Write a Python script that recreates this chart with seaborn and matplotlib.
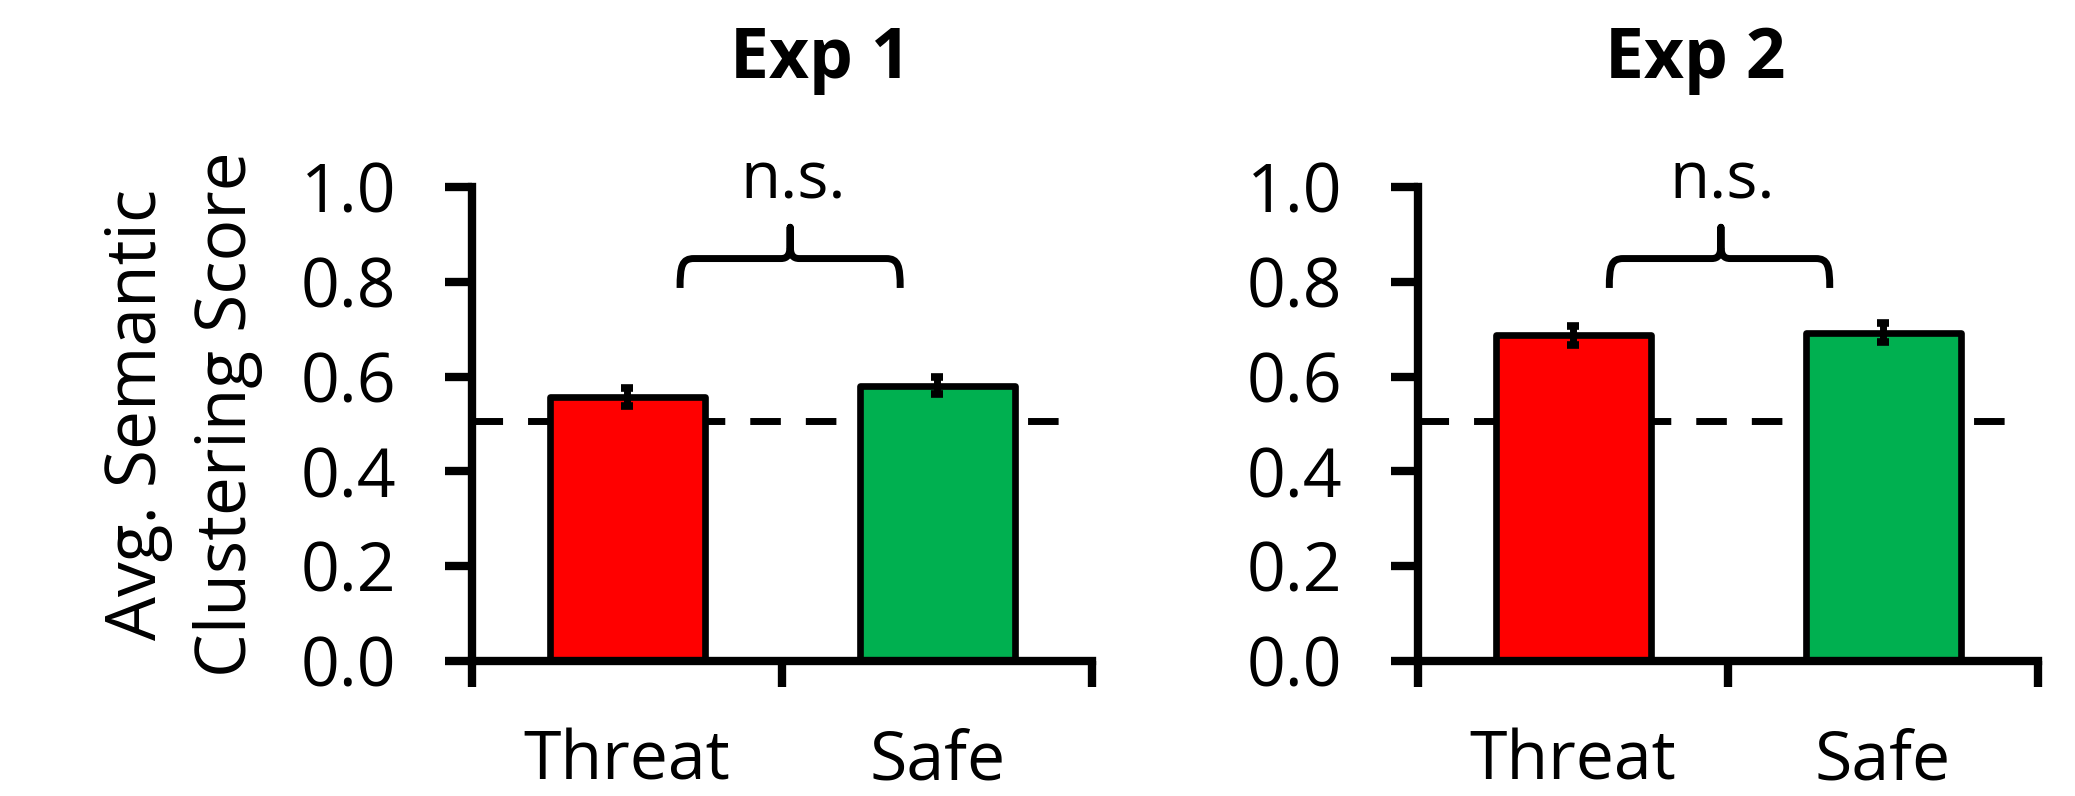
import numpy as np
import seaborn as sns
import matplotlib.pyplot as plt
from matplotlib.path import Path
from matplotlib.patches import PathPatch

# data
conditions = ['Threat', 'Safe']
bar_colors = ['#FF0000', '#00B050']
exp_titles = ['Exp 1', 'Exp 2']
exp1_means = [0.557, 0.581]
exp1_se = [0.019, 0.018]
exp2_means = [0.687, 0.693]
exp2_se = [0.020, 0.019]
chance_level = 0.507
yticks = [0.0, 0.2, 0.4, 0.6, 0.8, 1.0]
ytick_labels = ['0.0', '0.2', '0.4', '0.6', '0.8', '1.0']
sig_labels = ['n.s.', 'n.s.']
ylab = 'Avg. Semantic\nClustering Score'

sns.set_style('ticks')
plt.rcParams['font.family'] = ['Open Sans', 'DejaVu Sans']
for k in ['text.color', 'axes.labelcolor', 'xtick.color', 'ytick.color', 'axes.edgecolor']:
    plt.rcParams[k] = 'black'

LW = 5.0


def brace(ax, x0, x1, xm, ye=0.787, yl=0.849, yt=0.915):
    """curly brace over the two bars"""
    c = 0.045
    verts = [(x0, ye),
             (x0, ye + 0.75 * (yl - ye)), (x0 + 0.006, yl), (x0 + c, yl),
             (xm - 0.03, yl),
             (xm - 0.008, yl), (xm, yl + 0.008), (xm, yl + 0.03),
             (xm, yt),
             (xm, yl + 0.03),
             (xm, yl + 0.008), (xm + 0.008, yl), (xm + 0.03, yl),
             (x1 - c, yl),
             (x1 - 0.006, yl), (x1, ye + 0.75 * (yl - ye)), (x1, ye)]
    codes = [Path.MOVETO,
             Path.CURVE4, Path.CURVE4, Path.CURVE4,
             Path.LINETO,
             Path.CURVE4, Path.CURVE4, Path.CURVE4,
             Path.LINETO,
             Path.LINETO,
             Path.CURVE4, Path.CURVE4, Path.CURVE4,
             Path.LINETO,
             Path.CURVE4, Path.CURVE4, Path.CURVE4]
    ax.add_patch(PathPatch(Path(verts, codes), facecolor='none', edgecolor='black',
                           lw=LW, clip_on=False, capstyle='butt', joinstyle='round'))


fig = plt.figure(figsize=(20.75, 7.96), dpi=100)
ax1 = fig.add_axes([0.2275, 0.1696, 0.2988, 0.5955])
ax2 = fig.add_axes([0.6834, 0.1696, 0.2988, 0.5955])

panels = [(ax1, exp1_means, exp1_se), (ax2, exp2_means, exp2_se)]
title_x = [0.561, 0.447]
ns_x = [0.535, 0.48]
brace_x = [(0.171, 0.881, 0.526), (0.117, 0.828, 0.477)]

for i, (ax, means, se) in enumerate(panels):
    ax.axhline(chance_level, xmin=0, xmax=0.985, color='black', lw=LW,
               dashes=(4.4, 3.6), zorder=0.5)
    sns.barplot(x=conditions, y=means, hue=conditions, palette=bar_colors, legend=False,
                saturation=1, errorbar=None, width=0.5, edgecolor='black', linewidth=4.8,
                joinstyle='round', ax=ax, zorder=2)
    ax.errorbar(x=np.arange(len(conditions)), y=means, yerr=se, fmt='none',
                ecolor='black', elinewidth=5, capsize=4.6, capthick=5.5, zorder=4)

    ax.set_xlim(-0.5, 1.5)
    ax.set_ylim(0, 1)
    ax.set_yticks(yticks)
    ax.set_yticklabels(ytick_labels)
    ax.set_xticks([0, 1])
    ax.set_xticklabels(conditions)
    ax.set_xticks([-0.5, 0.5, 1.5], minor=True)
    ax.tick_params(axis='x', which='major', length=0, pad=48, labelsize=49)
    ax.tick_params(axis='x', which='minor', length=19, width=6, direction='out', color='black')
    ax.tick_params(axis='y', length=19.5, width=6, direction='out', pad=35, labelsize=49,
                   color='black')
    sns.despine(ax=ax)
    for s in ['left', 'bottom']:
        ax.spines[s].set_linewidth(6)
        ax.spines[s].set_color('black')
    ax.set_xlabel('')
    ax.set_ylabel('')

    ax.text(title_x[i], 1.23, exp_titles[i], transform=ax.transAxes, ha='center',
            va='baseline', fontsize=50, fontweight='bold')
    ax.text(ns_x[i], 0.976, sig_labels[i], ha='center', va='baseline', fontsize=47,
            clip_on=False)
    brace(ax, *brace_x[i])

ax1.set_ylabel(ylab, fontsize=50, linespacing=1.38)
ax1.yaxis.set_label_coords(-0.337, 0.52)

fig.savefig('out.png', dpi=100)
